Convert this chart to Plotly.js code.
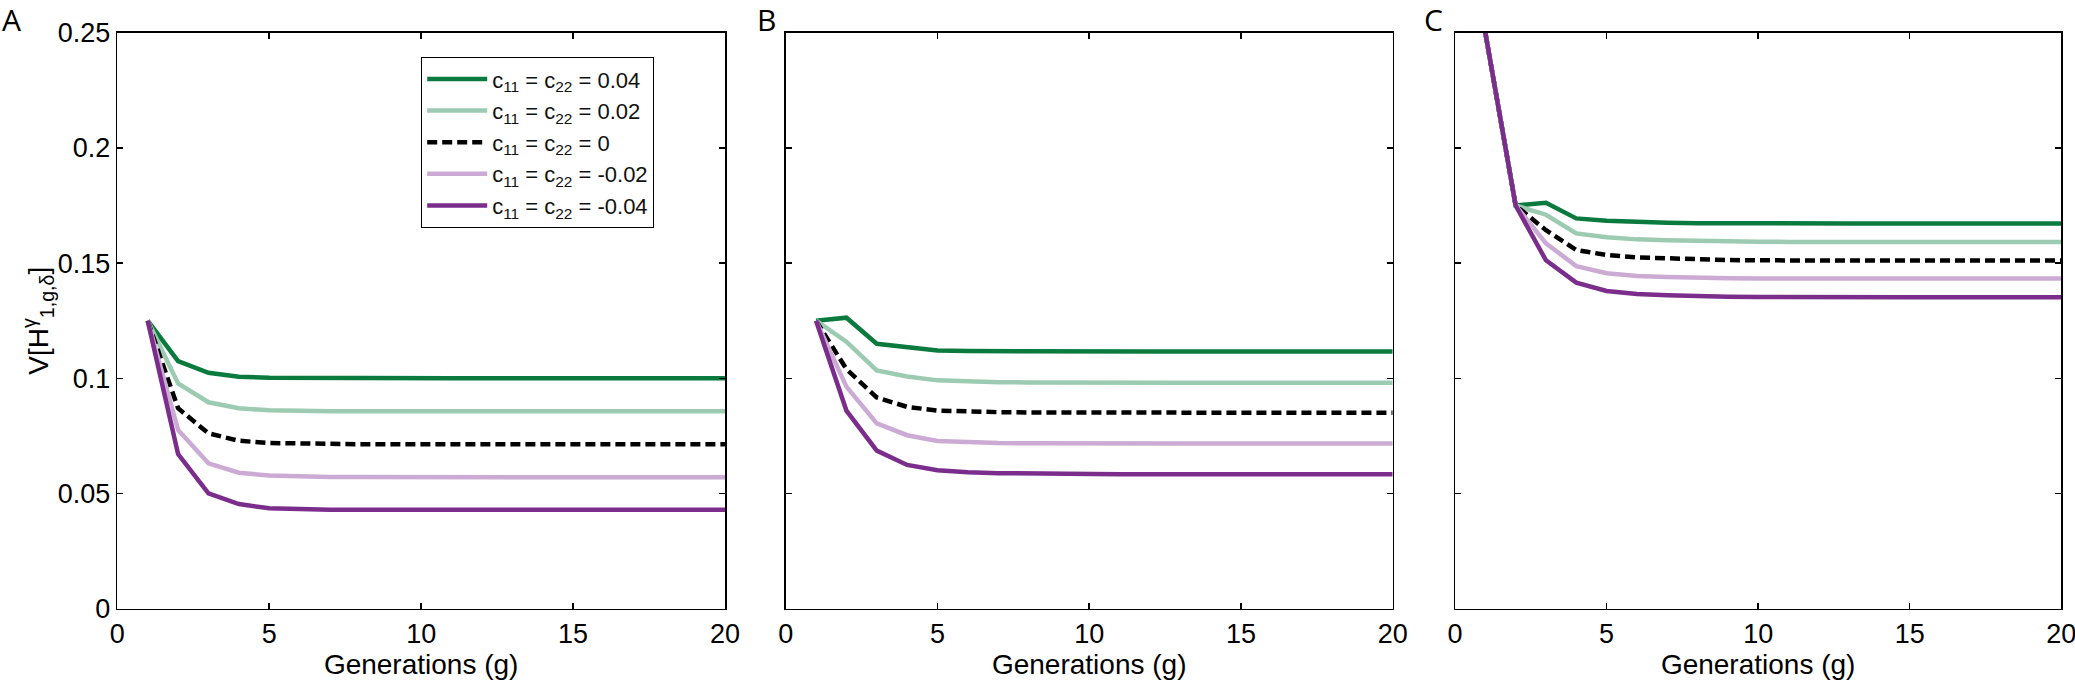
<!DOCTYPE html>
<html><head><meta charset="utf-8">
<script src="https://cdn.plot.ly/plotly-3.0.1.min.js"></script>
<style>html,body{margin:0;padding:0;background:#fff;}#plot{width:2075px;height:684px;}</style>
</head><body><div id="plot"></div>
<script>
const generations = [1,2,3,4,5,6,7,8,9,10,11,12,13,14,15,16,17,18,19,20];
const seriesNames = ['c<sub>11</sub> = c<sub>22</sub> = 0.04','c<sub>11</sub> = c<sub>22</sub> = 0.02','c<sub>11</sub> = c<sub>22</sub> = 0','c<sub>11</sub> = c<sub>22</sub> = -0.02','c<sub>11</sub> = c<sub>22</sub> = -0.04'];
const panelLabels = ['A','B','C'];
const xTicks = [0,5,10,15,20];
const yTicks = [0,0.05,0.1,0.15,0.2,0.25];
const yTickText = ['0','0.05','0.1','0.15','0.2','0.25'];

// Panel A
const a_p04 = [0.125,0.1075,0.1024,0.1007,0.1002,0.1001,0.1000,0.1000,0.1000,0.1000,0.1000,0.1000,0.1000,0.1000,0.1000,0.1000,0.1000,0.1000,0.1000,0.1000];
const a_p02 = [0.125,0.0978,0.0896,0.0870,0.0861,0.0858,0.0857,0.0857,0.0857,0.0857,0.0857,0.0857,0.0857,0.0857,0.0857,0.0857,0.0857,0.0857,0.0857,0.0857];
const a_z   = [0.125,0.0870,0.0761,0.0729,0.0719,0.0716,0.0715,0.0714,0.0714,0.0714,0.0714,0.0714,0.0714,0.0714,0.0714,0.0714,0.0714,0.0714,0.0714,0.0714];
const a_m02 = [0.125,0.0776,0.0631,0.0590,0.0578,0.0574,0.0572,0.0572,0.0571,0.0571,0.0571,0.0571,0.0571,0.0571,0.0571,0.0571,0.0571,0.0571,0.0571,0.0571];
const a_m04 = [0.125,0.0671,0.0501,0.0454,0.0436,0.0431,0.0430,0.0429,0.0429,0.0429,0.0429,0.0429,0.0429,0.0429,0.0429,0.0429,0.0429,0.0429,0.0429,0.0429];
// Panel B
const b_p04 = [0.125,0.1263,0.1150,0.1135,0.1121,0.1118,0.1117,0.1116,0.1116,0.1116,0.1116,0.1116,0.1116,0.1116,0.1116,0.1116,0.1116,0.1116,0.1116,0.1116];
const b_p02 = [0.125,0.1159,0.1034,0.1008,0.0991,0.0985,0.0983,0.0982,0.0981,0.0981,0.0981,0.0981,0.0981,0.0981,0.0981,0.0981,0.0981,0.0981,0.0981,0.0981];
const b_z   = [0.125,0.1040,0.0917,0.0876,0.0860,0.0855,0.0853,0.0852,0.0851,0.0851,0.0851,0.0851,0.0851,0.0851,0.0851,0.0851,0.0851,0.0851,0.0851,0.0851];
const b_m02 = [0.125,0.0964,0.0804,0.0753,0.0728,0.0722,0.0719,0.0718,0.0717,0.0717,0.0717,0.0717,0.0717,0.0717,0.0717,0.0717,0.0717,0.0717,0.0717,0.0717];
const b_m04 = [0.125,0.0860,0.0686,0.0624,0.0601,0.0592,0.0588,0.0586,0.0585,0.0584,0.0584,0.0584,0.0584,0.0584,0.0584,0.0584,0.0584,0.0584,0.0584,0.0584];
// Panel C
const c_p04 = [0.25,0.175,0.1762,0.1694,0.1684,0.1678,0.1675,0.1673,0.1672,0.1672,0.1672,0.1672,0.1672,0.1672,0.1672,0.1672,0.1672,0.1672,0.1672,0.1672];
const c_p02 = [0.25,0.175,0.1710,0.1629,0.1612,0.1603,0.1599,0.1596,0.1594,0.1593,0.1592,0.1592,0.1592,0.1592,0.1592,0.1592,0.1592,0.1592,0.1592,0.1592];
const c_z   = [0.25,0.175,0.1643,0.1557,0.1535,0.1525,0.1521,0.1516,0.1513,0.1512,0.1511,0.1511,0.1511,0.1511,0.1511,0.1511,0.1511,0.1511,0.1511,0.1511];
const c_m02 = [0.25,0.175,0.1586,0.1487,0.1456,0.1444,0.1440,0.1436,0.1434,0.1433,0.1433,0.1433,0.1433,0.1433,0.1433,0.1433,0.1433,0.1433,0.1433,0.1433];
const c_m04 = [0.25,0.175,0.1512,0.1415,0.1379,0.1366,0.1361,0.1356,0.1354,0.1353,0.1352,0.1352,0.1352,0.1352,0.1352,0.1352,0.1352,0.1352,0.1352,0.1352];

const panels = [[a_p04,a_p02,a_z,a_m02,a_m04],[b_p04,b_p02,b_z,b_m02,b_m04],[c_p04,c_p02,c_z,c_m02,c_m04]];
const colors = ['#0b7a3e','#9ccbb1','#000000','#cbaad4','#7b2d8c'];
const dashes = ['solid','solid','10px,5px','solid','solid'];

const W = 2075, H = 684;
const xDomains = [[117.3/W,725/W],[785.7/W,1392.7/W],[1455/W,2061.3/W]];
const yDomain = [1-608.7/H, 1-32.7/H];
const font = 'Liberation Sans, Arial, sans-serif';
const letterX = [1/W, 756/W, 1423/W];

const traces = [];
panels.forEach((series, p) => {
  series.forEach((vals, i) => {
    traces.push({
      x: generations, y: vals, type: 'scatter', mode: 'lines',
      xaxis: p === 0 ? 'x' : 'x' + (p+1), yaxis: p === 0 ? 'y' : 'y' + (p+1),
      name: seriesNames[i], legendgroup: 's'+i, showlegend: p === 0,
      line: {color: colors[i], width: 4.5, dash: dashes[i]}
    });
  });
});

const layout = {
  width: W, height: H, margin: {l:0,r:0,t:0,b:0},
  paper_bgcolor: '#fff', plot_bgcolor: '#fff',
  font: {family: font, size: 27, color: '#000'},
  showlegend: true,
  legend: {x: 421/W, y: 1-57/H, xanchor: 'left', yanchor: 'top', bordercolor: '#000', borderwidth: 1.2,
           bgcolor: '#fff', font: {family: font, size: 22, color: '#111'}, tracegroupgap: 0,
           itemwidth: 60, entrywidth: 262, entrywidthmode: 'pixels'},
  annotations: []
};
for (let p = 0; p < 3; p++) {
  const xa = p === 0 ? 'xaxis' : 'xaxis' + (p+1);
  const ya = p === 0 ? 'yaxis' : 'yaxis' + (p+1);
  layout[xa] = {
    domain: xDomains[p], anchor: p === 0 ? 'y' : 'y' + (p+1), range: [0,20],
    tickvals: xTicks, ticks: 'inside', ticklen: 6, tickwidth: 1.5, tickcolor: '#000',
    showline: true, linecolor: '#000', linewidth: 1.5, mirror: 'ticks',
    showgrid: false, zeroline: false, tickfont: {size: 27, family: font},
    ticklabeloverflow: 'allow',
    title: {text: 'Generations (g)', font: {size: 28, family: font}, standoff: 2}
  };
  layout[ya] = {
    domain: yDomain, anchor: p === 0 ? 'x' : 'x' + (p+1), range: [0,0.25],
    tickvals: yTicks, ticktext: yTickText, showticklabels: p === 0,
    ticks: 'inside', ticklen: 6, tickwidth: 1.5, tickcolor: '#000',
    showline: true, linecolor: '#000', linewidth: 1.5, mirror: 'ticks',
    showgrid: false, zeroline: false, tickfont: {size: 27, family: font}
  };
  if (p === 0) {
    layout[ya].title = {text: 'V[H<sup>γ</sup><sub>1,g,δ</sub>]', font: {size: 28, family: font}, standoff: 0};
  }
  layout.annotations.push({
    text: panelLabels[p], xref: 'paper', yref: 'paper',
    x: letterX[p], y: 1 - 20/H, xanchor: 'left', yanchor: 'middle',
    showarrow: false, borderpad: 0, font: {family: 'Open Sans, sans-serif', size: 30, color: '#000'}
  });
}
Plotly.newPlot('plot', traces, layout, {staticPlot: true});
</script></body></html>
